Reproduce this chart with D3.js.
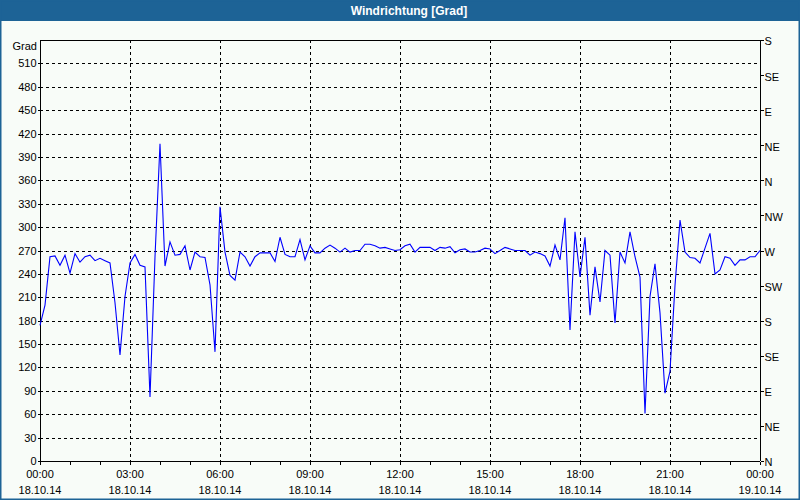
<!DOCTYPE html>
<html><head><meta charset="utf-8">
<script src="https://cdn.jsdelivr.net/npm/d3@7"></script>
<style>
html,body{margin:0;padding:0;background:#fff;}
svg{display:block;}
text{font-family:"Liberation Sans",Arial,sans-serif;}
</style></head>
<body>
<svg id="c" width="800" height="500"></svg>
<script>
// 10-minute samples from 18.10.14 00:00 to 19.10.14 00:00
const startTime = new Date(2014, 9, 18, 0, 0);
const endTime = new Date(2014, 9, 19, 0, 0);
const directionValues = [
 174,200,262,263,251,264,241,266,255,262,264,257,260,257,254,203,136,211,254,265,
 251,249,82,262,407,250,281,264,265,276,245,268,262,261,226,140,326,268,238,232,
 268,262,250,262,267,267,267,256,287,265,262,262,284,258,276,267,267,273,277,273,
 268,273,268,270,270,278,278,276,273,274,272,270,271,276,278,268,274,274,274,270,
 274,273,275,267,271,272,268,268,270,273,272,266,270,274,272,270,270,270,264,268,
 266,263,250,277,258,312,168,294,236,287,187,249,204,270,264,177,268,254,294,262,
 236,61,211,253,190,87,115,225,309,268,261,260,254,273,292,240,245,262,260,251,
 258,258,262,262,270
];
const leftTicks = [0,30,60,90,120,150,180,210,240,270,300,330,360,390,420,450,480,510];
const rightTickValues = [0,45,90,135,180,225,270,315,360,405,450,495,540];
const rightTickLabels = ["N","NE","E","SE","S","SW","W","NW","N","NE","E","SE","S"];
const titleText = "Windrichtung [Grad]";
const unitText = "Grad";

const data = directionValues.map((v,i)=>({t:new Date(startTime.getTime()+i*600000), v}));

const svg = d3.select("#c");
const W=800,H=500;
const L=40,R=760,T=40,B=461;

svg.append("rect").attr("x",0).attr("y",0).attr("width",W).attr("height",H).attr("fill","#f8fcf8");
svg.append("rect").attr("x",0).attr("y",0).attr("width",W).attr("height",21).attr("fill","#1d6396");
svg.append("rect").attr("x",0.5).attr("y",0.5).attr("width",W-1).attr("height",H-1)
  .attr("fill","none").attr("stroke","#1d6396").attr("stroke-width",2);
svg.append("text").attr("x",409).attr("y",15).attr("text-anchor","middle")
  .attr("fill","#fff").attr("font-size",12).attr("font-weight","bold").text(titleText);

const x = d3.scaleTime().domain([startTime,endTime]).range([L,R]);
const y = d3.scaleLinear().domain([0,540]).range([B,T]);

const g = svg.append("g").attr("shape-rendering","crispEdges");
// horizontal grid
g.selectAll(".hg").data(leftTicks.filter(d=>d>0)).enter().append("line")
  .attr("x1",L).attr("x2",R).attr("y1",d=>Math.round(y(d))+0.5).attr("y2",d=>Math.round(y(d))+0.5)
  .attr("stroke","#000").attr("stroke-dasharray","3,3");
// vertical grid
const vt = d3.timeHour.every(3).range(startTime,endTime).slice(1);
g.selectAll(".vg").data(vt).enter().append("line")
  .attr("x1",d=>Math.round(x(d))+0.5).attr("x2",d=>Math.round(x(d))+0.5).attr("y1",T).attr("y2",B)
  .attr("stroke","#000").attr("stroke-dasharray","3,3");

// top frame line
g.append("line").attr("x1",L).attr("x2",R).attr("y1",T+0.5).attr("y2",T+0.5).attr("stroke","#000");

// left axis
const la = svg.append("g").attr("transform",`translate(${L+0.5},0)`)
  .call(d3.axisLeft(y).tickValues(leftTicks).tickSize(3).tickFormat(d3.format("d")));
la.select(".domain").attr("d",`M0,${T}V${B}`).attr("shape-rendering","crispEdges");
la.selectAll("text").attr("font-size",11).attr("font-family","Liberation Sans, Arial").attr("fill","#000").attr("x",-4);
la.selectAll("line").attr("shape-rendering","crispEdges");

svg.append("text").attr("x",37).attr("y",50).attr("text-anchor","end").attr("font-size",11).text(unitText);

// right axis
const ra = svg.append("g").attr("transform",`translate(${R+0.5},0)`)
  .call(d3.axisRight(y).tickValues(rightTickValues).tickSize(3).tickFormat((d,i)=>rightTickLabels[i]));
ra.select(".domain").attr("d",`M0,${T}V${B}`).attr("shape-rendering","crispEdges");
ra.selectAll("text").attr("font-size",11).attr("font-family","Liberation Sans, Arial").attr("fill","#000").attr("x",4).attr("dy","0.45em");
ra.selectAll("line").attr("shape-rendering","crispEdges");

// bottom axis
const ba = svg.append("g").attr("transform",`translate(0,${B+0.5})`)
  .call(d3.axisBottom(x).ticks(d3.timeHour.every(1)).tickSize(3).tickFormat(""));
ba.select(".domain").attr("d",`M${L},0H${R}`).attr("shape-rendering","crispEdges");
ba.selectAll("line").attr("shape-rendering","crispEdges");
const labTimes = d3.timeHour.every(3).range(startTime,new Date(endTime.getTime()+1));
const fmtT = d3.timeFormat("%H:%M"), fmtD = d3.timeFormat("%d.%m.%y");
const lg = svg.append("g");
lg.selectAll(".t1").data(labTimes).enter().append("text").attr("x",d=>x(d)).attr("y",478)
  .attr("text-anchor","middle").attr("font-size",11).text(d=>fmtT(d));
lg.selectAll(".t2").data(labTimes).enter().append("text").attr("x",d=>x(d)).attr("y",494)
  .attr("text-anchor","middle").attr("font-size",11).text(d=>fmtD(d));

// data line
svg.append("path").datum(data)
  .attr("d",d3.line().x(d=>x(d.t)).y(d=>y(d.v)))
  .attr("fill","none").attr("stroke","#0000ff").attr("stroke-width",1.1);
</script>
</body></html>
